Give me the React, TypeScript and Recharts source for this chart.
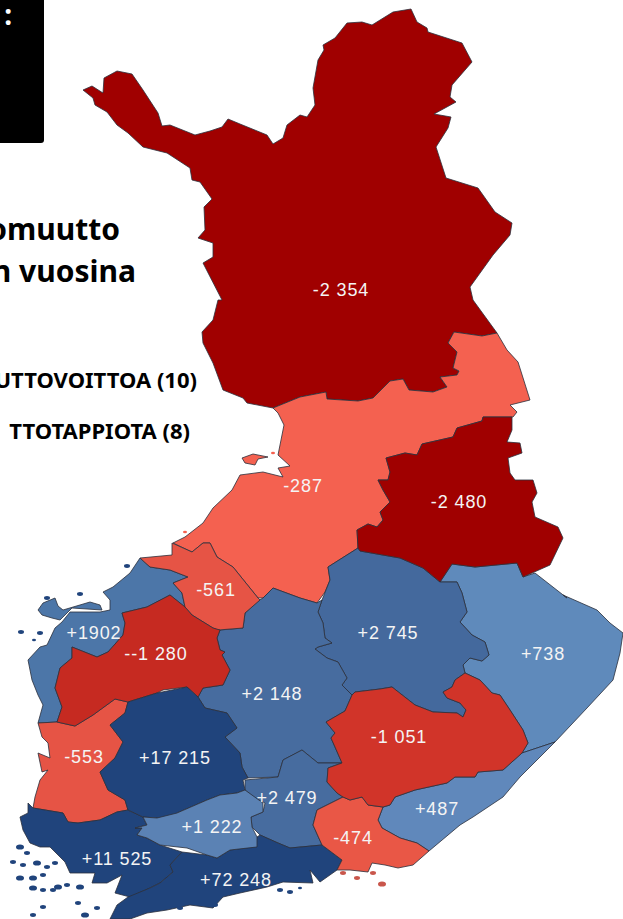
import React from 'react';
import { ComposedChart, Scatter, XAxis, YAxis, ReferenceArea } from 'recharts';

type P = [number, number];

const lappi: P[] = [[83,90],[92,86],[103,93],[104,78],[117,71],[132,74],[143,90],[158,113],[162,126],[170,125],[195,135],[210,131],[222,127],[228,119],[240,124],[267,135],[273,144],[283,138],[287,125],[300,115],[307,117],[315,105],[313,88],[318,60],[324,50],[323,45],[335,38],[347,23],[362,22],[372,25],[393,12],[411,9],[417,22],[427,28],[428,32],[462,43],[472,62],[452,85],[450,97],[456,102],[434,114],[451,117],[448,128],[436,147],[446,178],[478,188],[495,212],[512,223],[510,235],[493,255],[470,287],[473,300],[497,333],[482,336],[454,332],[448,343],[457,352],[453,368],[459,371],[457,375],[440,377],[447,387],[433,392],[409,390],[403,379],[390,381],[373,398],[358,401],[327,399],[326,392],[300,397],[273,408],[247,403],[243,398],[223,390],[213,363],[203,343],[202,332],[213,320],[218,300],[222,300],[203,263],[213,257],[213,243],[198,238],[205,230],[204,207],[212,199],[200,182],[192,180],[190,168],[167,153],[143,147],[128,133],[117,125],[107,112],[95,105],[93,98]];
const pohjoisPohjanmaa: P[] = [[326,392],[327,399],[358,401],[373,398],[390,381],[403,379],[409,390],[433,392],[447,387],[440,377],[457,375],[459,371],[453,368],[457,352],[448,343],[454,332],[482,336],[497,333],[507,350],[518,362],[530,400],[510,405],[517,412],[513,417],[483,417],[482,421],[457,428],[453,437],[422,444],[417,455],[405,453],[386,458],[390,472],[388,480],[378,480],[383,490],[390,502],[380,512],[383,520],[377,527],[368,524],[357,530],[358,548],[328,567],[330,580],[325,592],[317,603],[300,598],[273,588],[263,598],[258,598],[233,567],[217,557],[210,543],[203,543],[192,552],[173,543],[185,537],[203,523],[213,508],[232,490],[240,475],[263,472],[283,477],[278,468],[290,466],[278,455],[284,425],[278,413],[273,408],[300,397]];
const hailuoto: P[] = [[242,458],[253,454],[268,457],[258,459],[255,465],[245,463]];
const pohjoisKarjala: P[] = [[483,417],[512,417],[512,430],[507,442],[520,443],[522,453],[508,458],[510,473],[515,480],[533,480],[537,493],[532,502],[535,517],[558,527],[563,538],[550,565],[523,577],[517,563],[475,567],[452,564],[440,582],[423,568],[400,558],[360,551],[358,548],[357,530],[368,524],[377,527],[383,520],[380,512],[390,502],[383,490],[378,480],[388,480],[390,472],[386,458],[405,453],[417,455],[422,444],[453,437],[457,428],[482,421]];
const itaraja: P[] = [[452,564],[475,567],[517,563],[523,577],[535,573],[567,598],[563,595],[597,610],[610,623],[623,633],[620,653],[613,680],[587,708],[555,742],[522,753],[528,743],[523,730],[510,710],[500,695],[492,693],[480,680],[465,673],[463,665],[470,658],[482,661],[489,655],[485,642],[472,635],[460,622],[467,612],[462,593],[457,582],[440,582]];
const pohjoisSavo: P[] = [[358,548],[360,551],[400,558],[423,568],[440,582],[457,582],[462,593],[467,612],[460,622],[472,635],[485,642],[489,655],[482,661],[470,658],[463,665],[465,673],[455,680],[452,687],[443,692],[447,698],[460,703],[466,710],[463,717],[457,713],[433,712],[415,705],[392,687],[380,689],[355,692],[352,695],[342,685],[347,678],[338,662],[327,658],[315,649],[318,647],[332,643],[325,638],[323,623],[318,612],[322,600],[330,580],[328,567]];
const keskiSuomi: P[] = [[273,588],[263,598],[258,601],[245,613],[243,628],[220,630],[217,638],[220,650],[225,652],[222,655],[230,670],[223,685],[203,688],[198,697],[205,708],[227,713],[237,728],[225,737],[240,753],[242,767],[248,778],[278,777],[283,760],[302,750],[318,763],[342,763],[335,747],[331,738],[335,733],[326,722],[345,711],[352,695],[342,685],[347,678],[338,662],[327,658],[315,649],[318,647],[332,643],[325,638],[323,623],[318,612],[322,600],[317,603],[300,598]];
const paijatHame: P[] = [[245,780],[278,777],[283,760],[302,750],[318,763],[342,763],[328,768],[327,782],[337,793],[343,797],[317,810],[313,825],[322,845],[290,848],[278,843],[260,835],[252,827],[251,817],[263,812],[265,803],[253,797],[245,790]];
const kantaHame: P[] = [[143,817],[157,818],[177,813],[207,800],[220,795],[237,793],[245,790],[263,803],[263,812],[251,817],[252,827],[257,837],[257,847],[230,850],[217,858],[207,855],[187,848],[160,845],[147,838],[137,835],[142,828],[135,828],[147,825]];
const pirkanmaa: P[] = [[128,702],[157,693],[187,687],[198,697],[205,708],[227,713],[237,728],[225,737],[240,753],[242,767],[248,778],[243,780],[245,790],[237,793],[220,795],[207,800],[177,813],[175,822],[170,817],[157,818],[143,817],[128,810],[125,800],[108,790],[100,772],[115,758],[123,742],[110,725],[125,713]];
const satakunta: P[] = [[38,723],[57,722],[75,726],[93,715],[115,699],[128,702],[125,713],[110,725],[123,742],[115,758],[100,772],[108,790],[125,800],[128,810],[117,812],[100,820],[78,823],[68,822],[63,813],[33,808],[35,797],[40,780],[48,770],[42,772],[38,753],[50,758],[48,743],[42,737]];
const etelaPohjanmaa: P[] = [[122,613],[147,607],[170,595],[185,607],[192,615],[213,628],[220,630],[217,638],[220,650],[225,652],[222,655],[230,670],[223,685],[203,688],[198,697],[187,687],[163,690],[157,693],[128,702],[115,699],[93,715],[75,726],[57,722],[62,707],[55,688],[60,668],[72,658],[72,647],[97,657],[108,652],[123,635],[125,623]];
const pohjanmaa: P[] = [[140,558],[150,567],[170,570],[188,577],[173,583],[182,593],[185,607],[170,595],[147,607],[122,613],[125,623],[123,635],[108,652],[97,657],[72,647],[72,658],[60,668],[55,688],[62,707],[57,722],[38,723],[43,705],[38,695],[32,680],[28,660],[40,647],[47,645],[55,628],[62,622],[70,612],[100,612],[110,610],[110,600],[103,592],[113,587],[130,573]];
const merenkurkku: P[] = [[38,610],[43,603],[55,598],[58,606],[63,610],[90,602],[100,605],[102,610],[72,608],[60,620],[52,618],[42,615]];
const keskiPohjanmaa: P[] = [[140,558],[172,555],[172,543],[192,552],[203,543],[210,543],[217,557],[233,567],[258,598],[260,600],[245,613],[243,628],[218,630],[213,628],[192,615],[185,607],[182,593],[173,583],[188,577],[170,570],[150,567]];
const varsinaisSuomi: P[] = [[28,803],[33,808],[63,813],[68,822],[78,823],[100,820],[117,812],[128,810],[143,817],[147,825],[135,828],[142,828],[137,835],[147,838],[160,845],[182,852],[170,865],[173,872],[160,883],[150,888],[130,897],[115,893],[122,875],[107,883],[92,883],[95,873],[70,873],[65,862],[50,847],[40,847],[30,843],[23,830],[20,817],[28,813]];
const uusimaa: P[] = [[182,852],[207,855],[217,858],[230,850],[252,847],[257,837],[260,835],[278,843],[290,848],[322,845],[342,860],[337,870],[320,882],[310,870],[313,883],[283,882],[267,887],[240,893],[223,897],[213,908],[190,905],[167,910],[147,913],[130,919],[110,919],[117,905],[128,897],[150,888],[160,883],[173,872],[170,865]];
const kymenlaakso: P[] = [[343,797],[350,800],[362,797],[368,805],[383,807],[378,820],[382,828],[400,838],[417,843],[429,851],[413,865],[398,868],[385,865],[372,863],[368,872],[350,870],[337,870],[342,860],[322,845],[313,825],[317,810]];
const etelaKarjala: P[] = [[429,851],[417,843],[400,838],[382,828],[378,820],[383,807],[390,805],[395,797],[415,790],[447,783],[455,777],[475,777],[478,772],[503,770],[522,753],[555,742],[540,757],[520,777],[503,797],[473,817],[460,825]];
const etelaSavo: P[] = [[352,695],[355,692],[380,689],[392,687],[415,705],[433,712],[457,713],[463,717],[466,710],[460,703],[447,698],[443,692],[452,687],[455,680],[465,673],[480,680],[492,693],[500,695],[510,710],[523,730],[528,743],[522,753],[503,770],[478,772],[475,777],[455,777],[447,783],[415,790],[395,797],[390,805],[383,807],[368,805],[362,797],[350,800],[343,797],[337,793],[327,782],[328,768],[342,763],[335,747],[331,738],[335,733],[326,722],[345,711]];

const regions: { ring: P[]; color: string }[] = [
  { ring: lappi, color: '#a00000' },
  { ring: pohjoisPohjanmaa, color: '#f46150' },
  { ring: hailuoto, color: '#f46150' },
  { ring: itaraja, color: '#5f8abb' },
  { ring: etelaKarjala, color: '#6088bb' },
  { ring: pohjoisSavo, color: '#44699d' },
  { ring: keskiSuomi, color: '#476c9f' },
  { ring: paijatHame, color: '#476c9f' },
  { ring: pohjanmaa, color: '#4c76a8' },
  { ring: merenkurkku, color: '#4c76a8' },
  { ring: keskiPohjanmaa, color: '#e65445' },
  { ring: satakunta, color: '#e65445' },
  { ring: etelaPohjanmaa, color: '#c62a21' },
  { ring: varsinaisSuomi, color: '#20447c' },
  { ring: uusimaa, color: '#20447c' },
  { ring: pirkanmaa, color: '#20447c' },
  { ring: kantaHame, color: '#5b82b4' },
  { ring: kymenlaakso, color: '#e95746' },
  { ring: etelaSavo, color: '#d13429' },
  { ring: pohjoisKarjala, color: '#a00000' },
];

const blueIslets: number[][] = [[21,632,3],[40,633,3],[80,594,3],[127,566,3],[47,598,3],[34,640,2],[20,847,4],[27,853,3],[13,862,3],[23,865,3],[37,863,4],[47,867,3],[55,863,3],[20,878,4],[33,878,4],[43,875,3],[58,887,4],[33,888,4],[43,890,3],[53,890,3],[67,885,3],[80,887,4],[43,907,3],[33,915,3],[85,915,4],[97,908,3],[78,903,3],[117,913,3],[180,908,3],[215,905,3],[280,890,3],[290,892,3],[300,888,2]];
const blueIsletColor = '#20447c';
const redIslets: number[][] = [[343,873,3],[373,873,3],[357,878,3],[382,884,4]];
const redIsletColor = '#c9564b';
const coralIslets: number[][] = [[185,532,2],[273,453,2]];

const valueLabels: { x: number; y: number; text: string }[] = [
  { x: 341, y: 290, text: '-2 354' },
  { x: 303, y: 486, text: '-287' },
  { x: 459, y: 502, text: '-2 480' },
  { x: 216, y: 590, text: '-561' },
  { x: 388, y: 633, text: '+2 745' },
  { x: 543, y: 654, text: '+738' },
  { x: 94, y: 633, text: '+1902' },
  { x: 156, y: 654, text: '--1 280' },
  { x: 272, y: 694, text: '+2 148' },
  { x: 399, y: 737, text: '-1 051' },
  { x: 84, y: 757, text: '-553' },
  { x: 175, y: 758, text: '+17 215' },
  { x: 287, y: 798, text: '+2 479' },
  { x: 212, y: 827, text: '+1 222' },
  { x: 437, y: 809, text: '+487' },
  { x: 353, y: 838, text: '-474' },
  { x: 117, y: 859, text: '+11 525' },
  { x: 236, y: 880, text: '+72 248' },
];

const captions: { x: number; y: number; text: string }[] = [
  { x: 120, y: 240, text: 'omuutto' },
  { x: 136, y: 282, text: 'n vuosina' },
];
const legendLines: { x: number; y: number; text: string }[] = [
  { x: 197, y: 388, text: 'UTTOVOITTOA (10)' },
  { x: 190, y: 439, text: 'TTOTAPPIOTA (8)' },
];
const boxText: { x: number; y: number; text: string }[] = [{ x: 12, y: 25, text: ':' }];

const toPts = (r: P[]) => r.map(([x, y]) => ({ x, y }));
const noShape = () => <g />;

const ringPath = (color: string) => (p: any) => {
  const d = 'M' + p.points.map((q: any) => `${q.x},${q.y}`).join('L') + 'Z';
  return <path d={d} fill={color} stroke="#2a2f3c" strokeOpacity={0.8} strokeWidth={1} strokeLinejoin="round" />;
};

const textShape = (size: number, weight: number, family: string, color: string, anchor: string, spacing: number) => (p: any) => (
  <text x={p.cx} y={p.cy} fontSize={size} fontWeight={weight} fontFamily={family} fill={color} textAnchor={anchor as any} letterSpacing={spacing} dominantBaseline="auto">
    {p.payload.text}
  </text>
);

const isletShape = (color: string) => (p: any) => (
  <ellipse cx={p.cx} cy={p.cy} rx={p.payload.s} ry={p.payload.s * 0.65} fill={color} />
);
const isletPts = (a: number[][]) => a.map(([x, y, s]) => ({ x, y, s }));

export default function App() {
  return (
    <div style={{ position: 'absolute', left: 0, top: 0, width: 623, height: 919, overflow: 'hidden', background: '#fff' }}>
      <ComposedChart width={623} height={919} margin={{ top: 0, right: 0, bottom: 0, left: 0 }}>
        <XAxis type="number" dataKey="x" domain={[0, 623]} hide />
        <YAxis type="number" dataKey="y" domain={[0, 919]} reversed hide />
        <ReferenceArea x1={-6} x2={44} y1={-6} y2={143} fill="#000" fillOpacity={1} stroke="none" radius={3} ifOverflow="visible" />
        {regions.map((r, i) => (
          <Scatter key={i} data={toPts(r.ring)} isAnimationActive={false} line={ringPath(r.color)} lineType="joint" shape={noShape} />
        ))}
        <Scatter data={isletPts(blueIslets)} isAnimationActive={false} shape={isletShape(blueIsletColor)} />
        <Scatter data={isletPts(redIslets)} isAnimationActive={false} shape={isletShape(redIsletColor)} />
        <Scatter data={isletPts(coralIslets)} isAnimationActive={false} shape={isletShape('#f46150')} />
        <Scatter data={valueLabels} isAnimationActive={false} shape={(p: any) => (
          <text x={p.cx} y={p.cy + 6} fontSize={18} fontWeight={400} fontFamily="'Liberation Sans', sans-serif" fill="#f4f4f4" textAnchor="middle" letterSpacing={0.9}>{p.payload.text}</text>
        )} />
        <Scatter data={captions} isAnimationActive={false} shape={textShape(30, 700, "'Noto Sans', sans-serif", '#000', 'end', 0)} />
        <Scatter data={legendLines} isAnimationActive={false} shape={textShape(22, 700, "'Noto Sans', sans-serif", '#000', 'end', 0)} />
        <Scatter data={boxText} isAnimationActive={false} shape={textShape(28, 700, "'Noto Sans', sans-serif", '#fff', 'end', 0)} />
      </ComposedChart>
    </div>
  );
}
